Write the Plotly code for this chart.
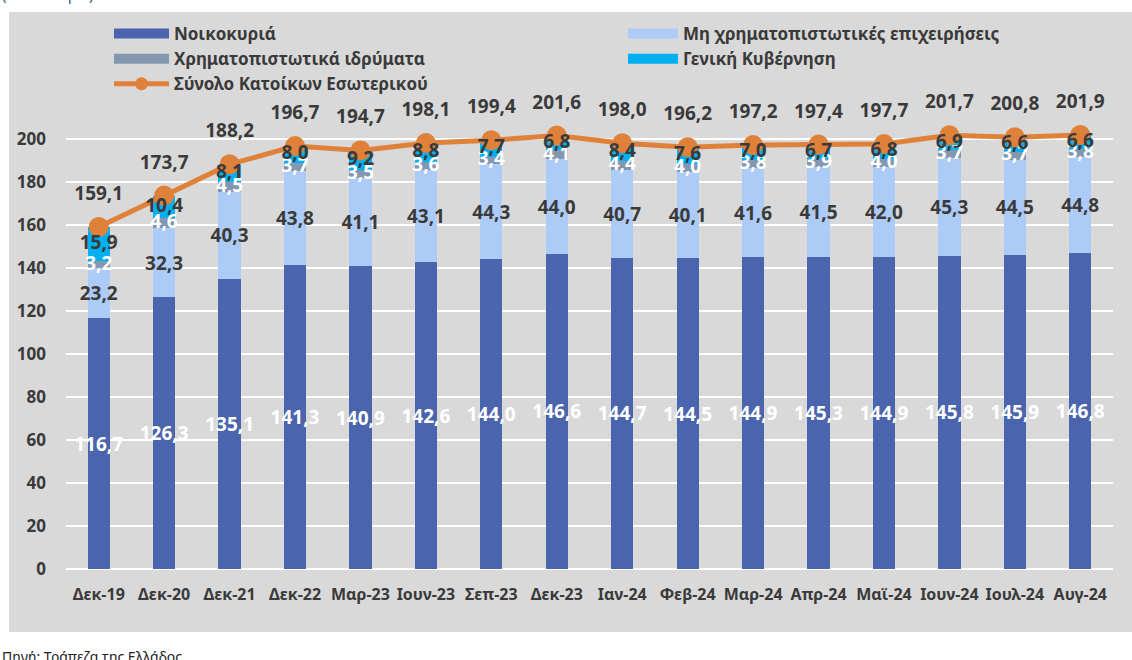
import plotly.graph_objects as go

categories = ["Δεκ-19", "Δεκ-20", "Δεκ-21", "Δεκ-22", "Μαρ-23", "Ιουν-23", "Σεπ-23", "Δεκ-23",
              "Ιαν-24", "Φεβ-24", "Μαρ-24", "Απρ-24", "Μαϊ-24", "Ιουν-24", "Ιουλ-24", "Αυγ-24"]
households = [116.7, 126.3, 135.1, 141.3, 140.9, 142.6, 144.0, 146.6, 144.7, 144.5, 144.9, 145.3, 144.9, 145.8, 145.9, 146.8]
nonfin_corps = [23.2, 32.3, 40.3, 43.8, 41.1, 43.1, 44.3, 44.0, 40.7, 40.1, 41.6, 41.5, 42.0, 45.3, 44.5, 44.8]
fin_institutions = [3.2, 4.6, 4.5, 3.7, 3.5, 3.6, 3.4, 4.1, 4.4, 4.0, 3.8, 3.9, 4.0, 3.7, 3.7, 3.8]
general_gov = [15.9, 10.4, 8.1, 8.0, 9.2, 8.8, 7.7, 6.8, 8.4, 7.6, 7.0, 6.7, 6.8, 6.9, 6.6, 6.6]
total_residents = [159.1, 173.7, 188.2, 196.7, 194.7, 198.1, 199.4, 201.6, 198.0, 196.2, 197.2, 197.4, 197.7, 201.7, 200.8, 201.9]
y_ticks = [0, 20, 40, 60, 80, 100, 120, 140, 160, 180, 200]

names = ["Νοικοκυριά", "Μη χρηματοπιστωτικές επιχειρήσεις", "Χρηματοπιστωτικά ιδρύματα", "Γενική Κυβέρνηση"]
series = [households, nonfin_corps, fin_institutions, general_gov]
colors = ["#4A65AD", "#ADCBF7", "#8497B0", "#00B0F0"]
label_colors = ["#FFFFFF", "#3A3A3A", "#FFFFFF", "#3A3A3A"]
legend_ids = ["legend", "legend2", "legend", "legend2"]

FONT = "Noto Sans"
DARK = "#3A3A3A"
ORANGE = "#E0813A"
LABEL_SIZE = 19


def fmt(v):
    return f"{v:.1f}".replace(".", ",")


fig = go.Figure()

# stacked bars; the two large segments carry their own inside labels
for i, (name, vals, col, lcol) in enumerate(zip(names, series, colors, label_colors)):
    own_text = i < 2
    fig.add_trace(go.Bar(
        x=categories, y=vals, name=name, marker=dict(color=col, line=dict(width=0)),
        text=[fmt(v) for v in vals] if own_text else None,
        textposition="inside" if own_text else "none", insidetextanchor="middle",
        textangle=0, constraintext="none",
        insidetextfont=dict(family=FONT, size=LABEL_SIZE, color=lcol, weight="bold"),
        showlegend=False, cliponaxis=False, hoverinfo="skip",
    ))

fig.add_trace(go.Scatter(
    x=categories, y=total_residents, mode="lines+markers", name="Σύνολο Κατοίκων Εσωτερικού",
    line=dict(color=ORANGE, width=5), marker=dict(color=ORANGE, size=20),
    showlegend=False, cliponaxis=False,
))

# labels of the thin top segments, drawn above the line markers (as in the original)
base = [h + n for h, n in zip(households, nonfin_corps)]
for vals, lcol in ((fin_institutions, "#FFFFFF"), (general_gov, DARK)):
    mids = [b + v / 2 for b, v in zip(base, vals)]
    fig.add_trace(go.Scatter(
        x=categories, y=mids, mode="text", text=[fmt(v) for v in vals],
        textposition="middle center",
        textfont=dict(family=FONT, size=LABEL_SIZE, color=lcol, weight="bold"),
        showlegend=False, cliponaxis=False, hoverinfo="skip",
    ))
    base = [b + v for b, v in zip(base, vals)]

# labels for the total line, offset above markers
fig.add_trace(go.Scatter(
    x=categories, y=total_residents, mode="markers+text",
    marker=dict(size=34, color="rgba(0,0,0,0)"),
    text=[fmt(v) for v in total_residents], textposition="top center",
    textfont=dict(family=FONT, size=LABEL_SIZE, color=DARK, weight="bold"),
    showlegend=False, cliponaxis=False, hoverinfo="skip",
))

# legend entries (wide swatches)
for name, col, lg in zip(names, colors, legend_ids):
    fig.add_trace(go.Scatter(
        x=[None], y=[None], mode="lines", name=name,
        line=dict(color=col, width=12), legend=lg, showlegend=True,
    ))
fig.add_trace(go.Scatter(
    x=[None], y=[None], mode="lines+markers", name="Σύνολο Κατοίκων Εσωτερικού",
    line=dict(color=ORANGE, width=5), marker=dict(color=ORANGE, size=13),
    legend="legend", showlegend=True,
))

W, H = 1132, 660
ML, MR, MT, MB = 66, 19, 96, 91
pw, ph = W - ML - MR, H - MT - MB


def px_x(p):
    return (p - ML) / pw


def px_y(p):
    return (H - MB - p) / ph


legend_font = dict(family=FONT, size=17, color=DARK, weight="bold")

fig.update_layout(
    width=W, height=H,
    margin=dict(l=ML, r=MR, t=MT, b=MB, autoexpand=False),
    paper_bgcolor="#FFFFFF", plot_bgcolor="rgba(0,0,0,0)",
    separators=",.",
    barmode="stack", bargap=0.66,
    font=dict(family=FONT, color=DARK),
    hovermode=False,
    legend=dict(x=px_x(109), y=px_y(16), xanchor="left", yanchor="top",
                orientation="v", font=legend_font, itemwidth=55, traceorder="normal",
                bgcolor="rgba(0,0,0,0)", tracegroupgap=0),
    legend2=dict(x=px_x(623), y=px_y(16), xanchor="left", yanchor="top",
                 orientation="v", font=legend_font, itemwidth=50, traceorder="normal",
                 bgcolor="rgba(0,0,0,0)", tracegroupgap=0),
    xaxis=dict(type="category", categoryorder="array", categoryarray=categories,
               range=[-0.5, len(categories) - 0.5], autorange=False,
               showgrid=False, zeroline=False, showline=False, ticks="", tickangle=0,
               tickfont=dict(family=FONT, size=16, color=DARK, weight="bold"),
               ticklabelstandoff=14, automargin=False),
    yaxis=dict(range=[0, 220], autorange=False, tickvals=y_ticks, showgrid=True, gridcolor="#FFFFFF",
               gridwidth=2, zeroline=True, zerolinecolor="#FFFFFF", zerolinewidth=2,
               showline=False, ticks="",
               tickfont=dict(family=FONT, size=17, color=DARK, weight="bold"),
               ticklabelstandoff=19, automargin=False),
    shapes=[dict(type="rect", xref="paper", yref="paper",
                 x0=px_x(9), x1=px_x(W + 5), y0=px_y(632), y1=px_y(12),
                 fillcolor="#D9D9D9", line=dict(width=0), layer="below")],
    annotations=[
        dict(text="(δισεκ. ευρώ)", xref="paper", yref="paper", x=px_x(0), y=px_y(6),
             xanchor="left", yanchor="bottom", showarrow=False,
             font=dict(family=FONT, size=15, color="#2F5597")),
        dict(text="Πηγή: Τράπεζα της Ελλάδος.", xref="paper", yref="paper", x=px_x(0), y=px_y(645),
             xanchor="left", yanchor="top", showarrow=False,
             font=dict(family=FONT, size=14, color="#222222")),
    ],
)

fig.write_html("out.html", config={"displayModeBar": False},
               post_script="document.body.style.margin='0';")
